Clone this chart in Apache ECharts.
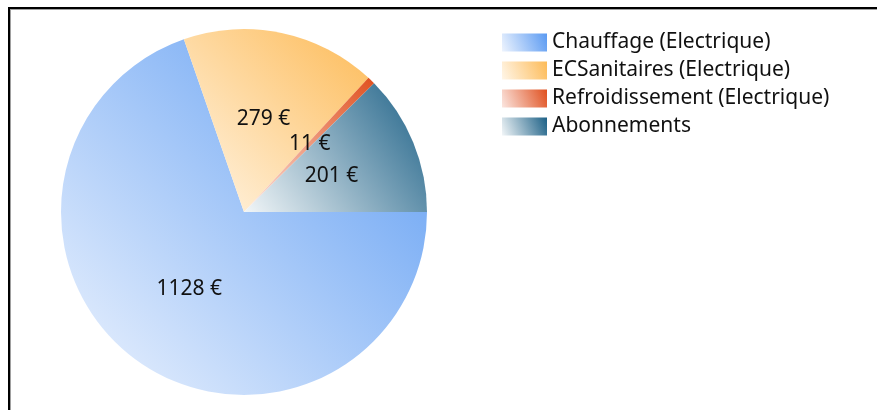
<!DOCTYPE html>
<html>
<head>
<meta charset="utf-8">
<script src="https://cdn.jsdelivr.net/npm/echarts@6/dist/echarts.min.js"></script>
<style>
  html, body { margin: 0; padding: 0; background: #fff; overflow: hidden; }
  #chart { position: absolute; left: 0; top: 0; width: 877px; height: 410px; }
  #frame { position: absolute; left: 8px; top: 7px; width: 900px; height: 440px;
           border-left: 2px solid #000; border-top: 2px solid #000;
           box-shadow: inset 1px 1px 0 #a0a0a0; pointer-events: none; }
</style>
</head>
<body>
<div id="chart"></div>
<div id="frame"></div>
<script>
const categories = ['Chauffage (Electrique)', 'ECSanitaires (Electrique)', 'Refroidissement (Electrique)', 'Abonnements'];
const values = [1128, 279, 11, 201];
const unit = ' €';
const lightColors = ['#eef4fe', '#fff6e8', '#fbe6e0', '#f2f6f8'];
const darkColors = ['#5a9af2', '#fdbb58', '#e0501f', '#1c6086'];

function grad(i) {
  return new echarts.graphic.LinearGradient(0, 1, 1, 0, [
    { offset: 0, color: lightColors[i] },
    { offset: 1, color: darkColors[i] }
  ]);
}

const chart = echarts.init(document.getElementById('chart'), null, { renderer: 'canvas' });
chart.setOption({
  animation: false,
  backgroundColor: '#ffffff',
  legend: {
    orient: 'vertical',
    left: 497,
    top: 27,
    itemWidth: 45,
    itemHeight: 18,
    itemGap: 7,
    icon: 'rect',
    data: categories,
    textStyle: { fontFamily: 'Noto Sans', fontSize: 21, color: '#111111', padding: [0, 0, 0, 0] }
  },
  series: [{
    type: 'pie',
    center: [244, 212],
    radius: 183,
    startAngle: 0,
    clockwise: true,
    avoidLabelOverlap: false,
    silent: true,
    label: {
      show: true,
      position: 'inside',
      formatter: p => p.value + unit,
      fontFamily: 'Noto Sans',
      fontSize: 21,
      color: '#111111'
    },
    labelLine: { show: false },
    emphasis: { disabled: true },
    data: categories.map((c, i) => ({
      name: c,
      value: values[i],
      itemStyle: { color: grad(i) }
    }))
  }]
});
</script>
</body>
</html>
